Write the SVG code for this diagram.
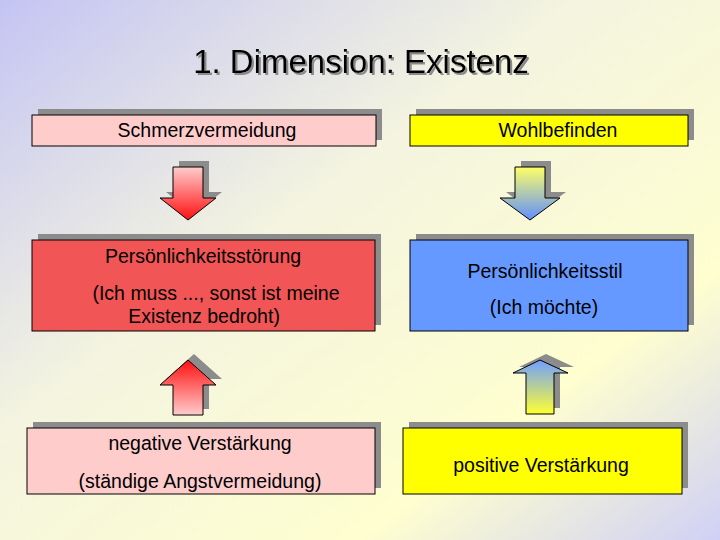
<svg xmlns="http://www.w3.org/2000/svg" width="720" height="540" viewBox="0 0 720 540">
<defs>
<linearGradient id="bg" x1="0" y1="0" x2="1" y2="1"><stop offset="0" stop-color="#c4c4f4"/><stop offset="0.4" stop-color="#f4f4e0"/><stop offset="0.75" stop-color="#fefed0"/><stop offset="1" stop-color="#d0d0f6"/></linearGradient>
<linearGradient id="rd" x1="0" y1="0" x2="0" y2="1"><stop offset="0" stop-color="#ffcccc"/><stop offset="1" stop-color="#ff1010"/></linearGradient>
<linearGradient id="ru" x1="0" y1="1" x2="0" y2="0"><stop offset="0" stop-color="#ffcccc"/><stop offset="1" stop-color="#ff1010"/></linearGradient>
<linearGradient id="bd" x1="0" y1="0" x2="0" y2="1"><stop offset="0" stop-color="#ffff66"/><stop offset="1" stop-color="#5f8fff"/></linearGradient>
<linearGradient id="bu" x1="0" y1="1" x2="0" y2="0"><stop offset="0" stop-color="#ffff33"/><stop offset="1" stop-color="#6f9fff"/></linearGradient>
<filter id="ds" x="-10%" y="-30%" width="120%" height="160%"><feDropShadow dx="2" dy="2" stdDeviation="0.3" flood-color="#8a8a8a"/></filter>
</defs>
<style>
.sh{fill:#8c8c8c}
.bx{stroke:#000;stroke-width:1}
.t{font-family:"Liberation Sans",Arial,sans-serif;font-size:19.5px;text-anchor:middle;fill:#000}
.ar{stroke:#000;stroke-width:1}
</style>
<rect width="720" height="540" fill="url(#bg)"/>
<g id="title"><text x="361" y="73" font-family="Liberation Sans,Arial,sans-serif" font-size="33" text-anchor="middle" fill="#000" filter="url(#ds)">1. Dimension: Existenz</text></g>
<g id="n1"><rect class="sh" x="38" y="109" width="344" height="31"/><rect class="bx" x="32" y="115" width="344" height="31" fill="#ffcccc"/><text class="t" x="207" y="137">Schmerzvermeidung</text></g>
<g id="n2"><rect class="sh" x="416" y="109" width="278" height="31"/><rect class="bx" x="410" y="115" width="278" height="31" fill="#ffff00"/><text class="t" x="558" y="137">Wohlbefinden</text></g>
<g id="n3"><rect class="sh" x="38" y="234" width="343" height="91"/><rect class="bx" x="32" y="240" width="343" height="91" fill="#f25555"/><text class="t" x="203" y="263">Persönlichkeitsstörung</text><text class="t" x="216" y="300">(Ich muss ..., sonst ist meine</text><text class="t" x="204" y="323">Existenz bedroht)</text></g>
<g id="n4"><rect class="sh" x="416" y="234" width="278" height="91"/><rect class="bx" x="410" y="240" width="278" height="91" fill="#6699ff"/><text class="t" x="545" y="278">Persönlichkeitsstil</text><text class="t" x="544" y="314">(Ich möchte)</text></g>
<g id="n5"><rect class="sh" x="33" y="422" width="348" height="66"/><rect class="bx" x="27" y="428" width="348" height="66" fill="#ffcccc"/><text class="t" x="200" y="450">negative Verstärkung</text><text class="t" x="200" y="488">(ständige Angstvermeidung)</text></g>
<g id="n6"><rect class="sh" x="409" y="422" width="279" height="66"/><rect class="bx" x="403" y="428" width="279" height="66" fill="#ffff00"/><text class="t" x="541" y="472">positive Verstärkung</text></g>
<g id="connectors">
<polygon class="sh" points="179,161 209,161 209,192 222,192 194,214 166,192 179,192"/>
<polygon class="ar" fill="url(#rd)" points="173,167 203,167 203,198 216,198 188,220 160,198 173,198"/>
<polygon class="sh" points="521,161 551,161 551,192 566,192 536,214 506,192 521,192"/>
<polygon class="ar" fill="url(#bd)" points="515,167 545,167 545,198 560,198 530,220 500,198 515,198"/>
<polygon class="sh" points="179,409 209,409 209,379 222,379 194,354 166,379 179,379"/>
<polygon class="ar" fill="url(#ru)" points="173,415 203,415 203,385 216,385 188,360 160,385 173,385"/>
<polygon class="sh" points="532,408 560,408 560,367 574,367 546,354 519,367 532,367"/>
<polygon class="ar" fill="url(#bu)" points="526,414 554,414 554,373 568,373 540,360 513,373 526,373"/>
</g>
</svg>
